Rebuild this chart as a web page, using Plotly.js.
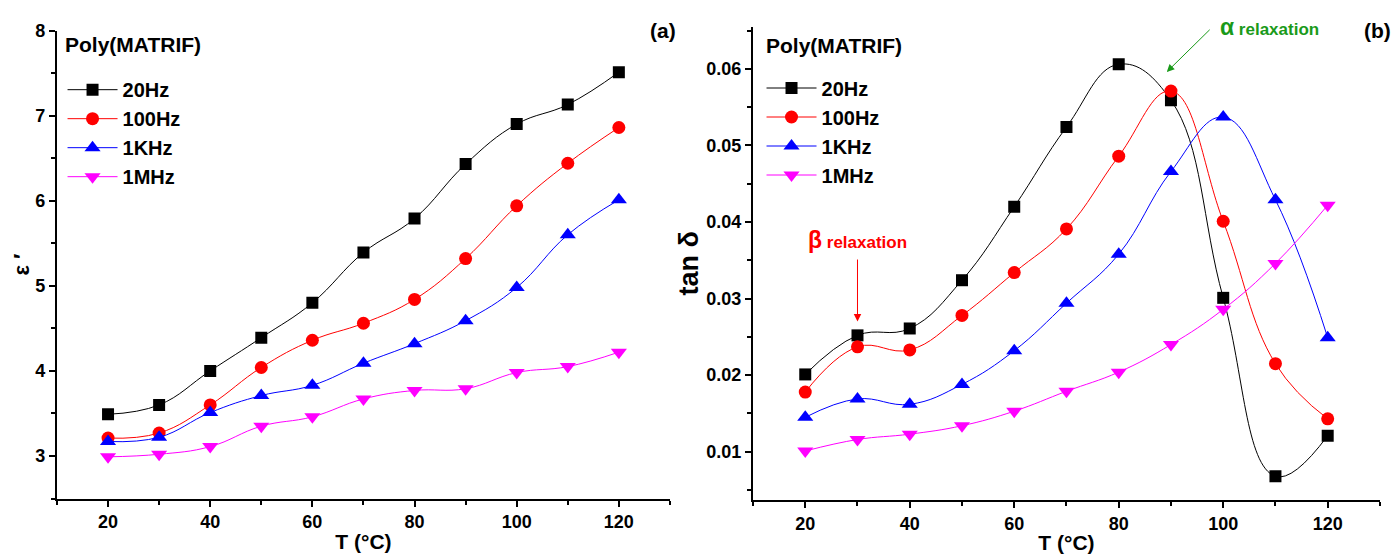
<!DOCTYPE html>
<html>
<head>
<meta charset="utf-8">
<script src="https://cdn.plot.ly/plotly-3.0.1.min.js"></script>
<style>html,body{margin:0;padding:0;background:#fff;}</style>
</head>
<body>
<div id="chart" style="width:1396px;height:557px;"></div>
<script>
// ---- data ----
const temps = [20, 30, 40, 50, 60, 70, 80, 90, 100, 110, 120];
const seriesNames = ['20Hz', '100Hz', '1KHz', '1MHz'];

// (a) dielectric constant ε'
const eps20Hz  = [3.49, 3.60, 4.00, 4.39, 4.80, 5.39, 5.79, 6.43, 6.90, 7.13, 7.51];
const eps100Hz = [3.21, 3.27, 3.60, 4.04, 4.36, 4.56, 4.84, 5.32, 5.94, 6.44, 6.86];
const eps1KHz  = [3.17, 3.22, 3.51, 3.71, 3.83, 4.09, 4.32, 4.59, 4.98, 5.60, 6.01];
const eps1MHz  = [2.99, 3.02, 3.11, 3.35, 3.46, 3.67, 3.77, 3.79, 3.98, 4.05, 4.22];

// (b) loss tangent tan δ
const tan20Hz  = [0.0201, 0.0252, 0.0261, 0.0324, 0.0420, 0.0524, 0.0606, 0.0559, 0.0301, 0.0068, 0.0121];
const tan100Hz = [0.0178, 0.0237, 0.0233, 0.0278, 0.0334, 0.0391, 0.0486, 0.0571, 0.0401, 0.0215, 0.0143];
const tan1KHz  = [0.0145, 0.0169, 0.0162, 0.0188, 0.0232, 0.0294, 0.0358, 0.0466, 0.0537, 0.0429, 0.0249];
const tan1MHz  = [0.0101, 0.0116, 0.0123, 0.0134, 0.0153, 0.0179, 0.0204, 0.0240, 0.0286, 0.0346, 0.0422];

const xTickVals = [20, 40, 60, 80, 100, 120];

// ---- styles ----
const colors  = ['#000000', '#ff0000', '#0000ff', '#ff00ff'];
const symbols = ['square', 'circle', 'triangle-up', 'triangle-down'];
const msizes  = [12, 13, 14, 14];
const FONT = 'Liberation Sans, Arial, Helvetica, sans-serif';

const epsSets = [eps20Hz, eps100Hz, eps1KHz, eps1MHz];
const tanSets = [tan20Hz, tan100Hz, tan1KHz, tan1MHz];

const traces = [];
epsSets.forEach((ys, i) => traces.push({
  x: temps, y: ys, name: seriesNames[i], xaxis: 'x', yaxis: 'y', legend: 'legend',
  type: 'scatter', mode: 'lines+markers',
  line: {color: colors[i], width: 1, shape: 'spline', smoothing: 1.2},
  marker: {color: colors[i], symbol: symbols[i], size: msizes[i]}
}));
tanSets.forEach((ys, i) => traces.push({
  x: temps, y: ys, name: seriesNames[i], xaxis: 'x2', yaxis: 'y2', legend: 'legend2',
  type: 'scatter', mode: 'lines+markers',
  line: {color: colors[i], width: 1, shape: 'spline', smoothing: 1.2},
  marker: {color: colors[i], symbol: symbols[i], size: msizes[i]}
}));

function xAxis(domain, anchor) {
  return {
    domain: domain, anchor: anchor, range: [10, 130],
    tickmode: 'array', tickvals: xTickVals,
    ticks: 'outside', ticklen: 6, tickwidth: 2, tickcolor: '#000',
    showline: true, linewidth: 2, linecolor: '#000',
    showgrid: false, zeroline: false, automargin: false,
    minor: {dtick: 10, tick0: 0, ticks: 'outside', ticklen: 4, tickwidth: 2, tickcolor: '#000', showgrid: false},
    tickfont: {family: FONT, size: 18, color: '#000', weight: 'bold'},
    title: {text: 'T (°C)', font: {family: FONT, size: 21, color: '#000', weight: 'bold'}, standoff: 3}
  };
}
function yAxis(domain, anchor, range, dtick, mdtick, fmt, title, tsize) {
  return {
    domain: domain, anchor: anchor, range: range,
    tick0: 0, dtick: dtick, tickformat: fmt,
    ticks: 'outside', ticklen: 6, tickwidth: 2, tickcolor: '#000',
    showline: true, linewidth: 2, linecolor: '#000',
    showgrid: false, zeroline: false, automargin: false,
    minor: {dtick: mdtick, tick0: 0, ticks: 'outside', ticklen: 4, tickwidth: 2, tickcolor: '#000', showgrid: false},
    tickfont: {family: FONT, size: 18, color: '#000', weight: 'bold'},
    title: {text: title, font: {family: FONT, size: tsize, color: '#000', weight: 'bold'}, standoff: 0}
  };
}
function legendCfg(x, y) {
  return {
    x: x, y: y, xanchor: 'left', yanchor: 'top', xref: 'paper', yref: 'paper',
    bgcolor: 'rgba(0,0,0,0)', borderwidth: 0, itemwidth: 50,
    font: {family: FONT, size: 20, color: '#000', weight: 'bold'},
    tracegroupgap: 0, itemclick: false
  };
}

const layout = {
  width: 1396, height: 557,
  margin: {l: 0, r: 0, t: 0, b: 0},
  paper_bgcolor: '#fff', plot_bgcolor: '#fff',
  showlegend: true,
  font: {family: FONT, color: '#000'},
  xaxis: xAxis([0.0408, 0.4799], 'y'),
  yaxis: yAxis([0.105, 0.9452], 'x', [2.5, 8], 1, 0.5, '', 'ε ′', 22),
  xaxis2: xAxis([0.5394, 0.9885], 'y2'),
  yaxis2: yAxis([0.1023, 0.952], 'x2', [0.0037, 0.0655], 0.01, 0.005, '.2f', 'tan δ', 27),
  legend: legendCfg(0.0448, 0.874),
  legend2: legendCfg(0.5455, 0.877),
  annotations: [
    {xref: 'paper', yref: 'paper', x: 0.0452, y: 0.921, text: 'Poly(MATRIF)', showarrow: false,
     xanchor: 'left', yanchor: 'middle', font: {family: FONT, size: 21, color: '#000', weight: 'bold'}},
    {xref: 'paper', yref: 'paper', x: 0.5473, y: 0.919, text: 'Poly(MATRIF)', showarrow: false,
     xanchor: 'left', yanchor: 'middle', font: {family: FONT, size: 21, color: '#000', weight: 'bold'}},
    {xref: 'paper', yref: 'paper', x: 0.4749, y: 0.946, text: '(a)', showarrow: false,
     xanchor: 'center', yanchor: 'middle', font: {family: FONT, size: 21, color: '#000', weight: 'bold'}},
    {xref: 'paper', yref: 'paper', x: 0.9871, y: 0.946, text: '(b)', showarrow: false,
     xanchor: 'center', yanchor: 'middle', font: {family: FONT, size: 21, color: '#000', weight: 'bold'}},
    {xref: 'x2', yref: 'y2', x: 30, y: 0.0376, text: '<span style="font-size:23px">β</span> relaxation',
     showarrow: false, xanchor: 'center', yanchor: 'middle', font: {family: FONT, size: 17, color: '#ff0000', weight: 'bold'}},
    {xref: 'x2', yref: 'y2', x: 30, y: 0.0270, axref: 'x2', ayref: 'y2', ax: 30, ay: 0.0353, text: '',
     showarrow: true, arrowcolor: '#ff0000', arrowwidth: 1, arrowhead: 2, arrowsize: 1.5},
    {xref: 'x2', yref: 'y2', x: 99.0, y: 0.0655, text: '<span style="font-size:23px">α</span> relaxation',
     showarrow: false, xanchor: 'left', yanchor: 'middle', font: {family: FONT, size: 17, color: '#1a9a1a', weight: 'bold'}},
    {xref: 'x2', yref: 'y2', x: 89.2, y: 0.0596, axref: 'x2', ayref: 'y2', ax: 97.7, ay: 0.0653, text: '',
     showarrow: true, arrowcolor: '#1a9a1a', arrowwidth: 1, arrowhead: 2, arrowsize: 1.5}
  ]
};

Plotly.newPlot('chart', traces, layout, {staticPlot: true, displayModeBar: false});
</script>
</body>
</html>
